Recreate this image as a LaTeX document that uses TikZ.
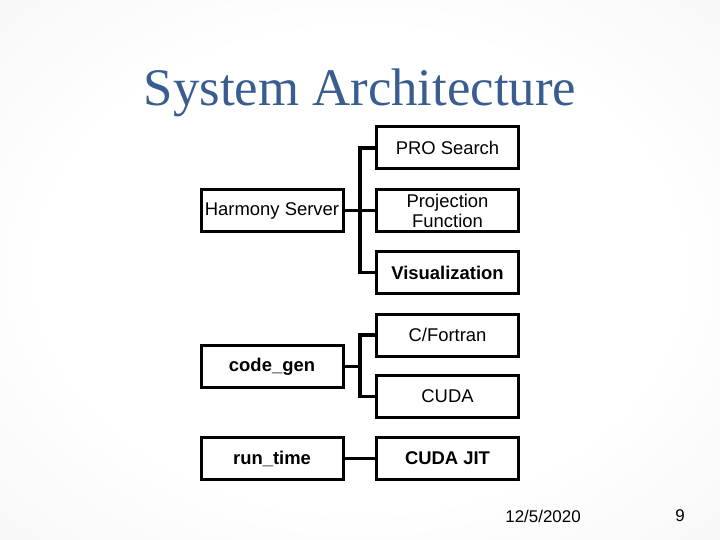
\documentclass[tikz,border=0pt]{standalone}
\usepackage{fontspec}
\setmainfont{Liberation Serif}
\setsansfont{Liberation Sans}
\usepackage{xcolor}
\usepackage{tikz}
\definecolor{titleblue}{HTML}{3A5D8F}
\definecolor{edgegray}{HTML}{EFEFEF}
\definecolor{cornergray}{HTML}{D9D9D9}
\pgfdeclareradialshading{slidebg}{\pgfpoint{0bp}{0bp}}{color(0bp)=(white); color(22bp)=(white); color(50bp)=(edgegray); color(71bp)=(cornergray)}

\begin{document}
\begin{tikzpicture}[x=1bp, y=-1bp,
    block/.style={draw, line width=3bp, minimum width=142bp, minimum height=42bp,
      inner sep=1bp, align=center, font=\sffamily\fontsize{18.5}{20}\selectfont},
    boldblock/.style={block, font=\sffamily\bfseries\fontsize{18.5}{20}\selectfont},
    link/.style={line width=3.2bp}]
  % slide background
  \shade[shading=slidebg] (0,0) rectangle (720,540);
  \useasboundingbox (0,0) rectangle (720,540);

  \node[text=titleblue, font=\fontsize{53}{60}\selectfont] (title) at (360,93) {System Architecture};

  % Harmony Server
  \node[block] (hs) at (272,210.5) {Harmony Server};
  \node[block] (ps) at (447.5,148) {PRO Search};
  \node[block] (pf) at (447.5,210.5) {Projection\\Function};
  \node[boldblock] (vz) at (447.5,272.5) {Visualization};
  \coordinate (j1) at (360,210.5);
  \draw[link] (ps.west) -| (j1) |- (vz.west);
  \draw[link] (hs.east) -- (pf.west);

  % code_gen
  \node[boldblock] (cg) at (272,366.5) {code\_gen};
  \node[block] (cf) at (447.5,335) {C/Fortran};
  \node[block] (cu) at (447.5,396.5) {CUDA};
  \coordinate (j2) at (360,366.5);
  \draw[link] (cf.west) -| (j2) |- (cu.west);
  \draw[link] (cg.east) -- (j2);

  % run_time
  \node[boldblock] (rt) at (272,458.5) {run\_time};
  \node[boldblock] (jit) at (447.5,458.5) {CUDA JIT};
  \draw[link] (rt.east) -- (jit.west);

  % footer
  \node[font=\sffamily\fontsize{17}{20}\selectfont] (date) at (543,516) {12/5/2020};
  \node[font=\sffamily\fontsize{17}{20}\selectfont] (page) at (680,516) {9};
\end{tikzpicture}
\end{document}
